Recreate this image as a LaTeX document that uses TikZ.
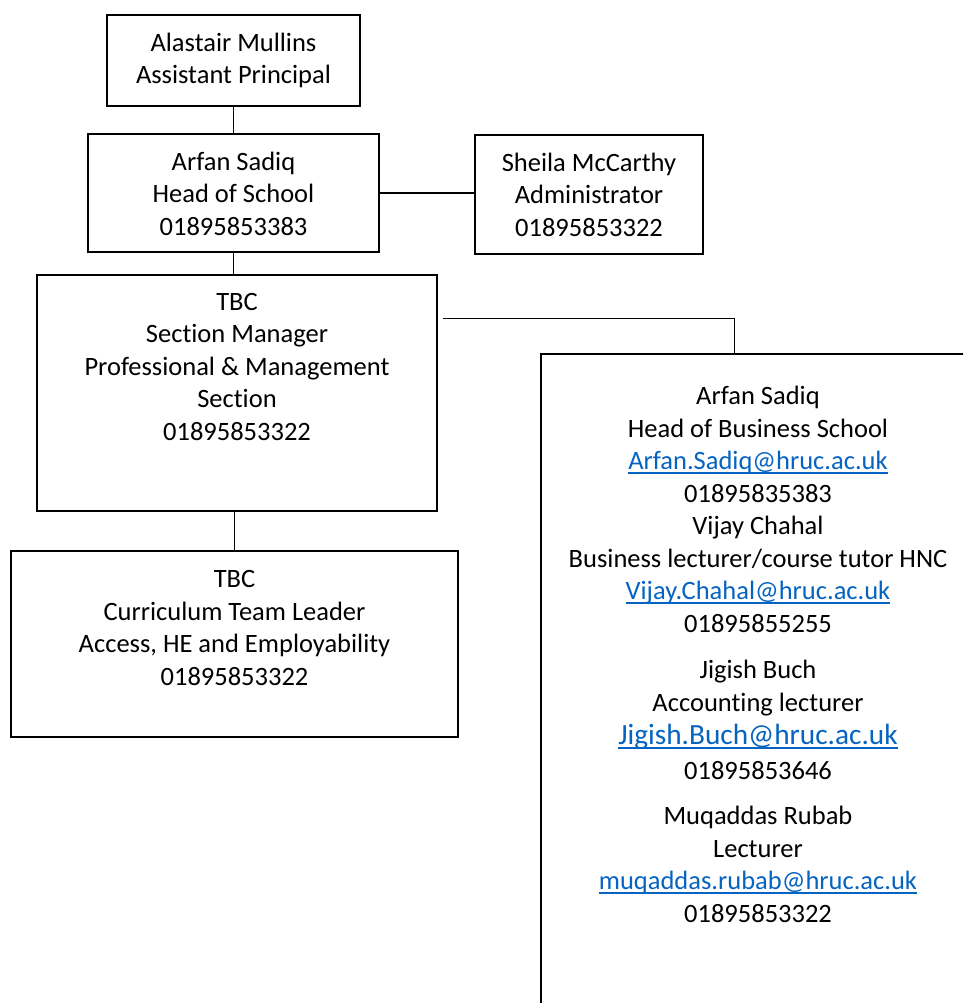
\documentclass[tikz,border=0pt]{standalone}
\usepackage{fontspec}
\setmainfont{Carlito}[Ligatures=NoCommon]
\definecolor{linkblue}{HTML}{0563C1}
\newcommand\mylink[1]{\textcolor{linkblue}{\setbox0\hbox{#1}\rlap{\rule[-4pt]{\wd0}{1.4pt}}\box0}}
\tikzset{
  box/.style={draw, line width=1.5pt, inner sep=0pt},
  txt/.style={align=center, anchor=base, inner sep=0pt, font=\fontsize{26.5}{32.5}\selectfont},
  conn/.style={line width=1.1pt},
}
\begin{document}
\begin{tikzpicture}[x=1pt,y=-1pt]
\useasboundingbox (0,0) rectangle (963,1003);
\clip (0,0) rectangle (963,1003);
% boxes
\node[box, minimum width=253pt, minimum height=91pt]  (a) at (233.5,60.5) {};
\node[box, minimum width=291pt, minimum height=118pt] (b) at (233.5,193) {};
\node[box, minimum width=228pt, minimum height=119pt] (c) at (589,194.5) {};
\node[box, minimum width=400pt, minimum height=236pt] (d) at (237,393) {};
\node[box, minimum width=447pt, minimum height=186pt] (f) at (234.5,644) {};
\node[box, minimum width=434pt, minimum height=661pt] (e) at (758,684.5) {};
% texts (anchor base = baseline of the last line)
\node[txt] (at) at (233.5,84) {Alastair Mullins\\Assistant Principal};
\node[txt] (bt) at (233.5,235) {Arfan Sadiq\\Head of School\\01895853383};
\node[txt] (ct) at (589,236) {Sheila McCarthy\\Administrator\\01895853322};
\node[txt] (dt) at (237,440) {TBC\\Section Manager\\Professional \& Management\\Section\\01895853322};
\node[txt] (ft) at (234.5,685) {TBC\\Curriculum Team Leader\\Access, HE and Employability\\01895853322};
\node[txt] (e1) at (758,632) {Arfan Sadiq\\Head of Business School\\\mylink{Arfan.Sadiq@hruc.ac.uk}\\01895835383\\Vijay Chahal\\Business lecturer/course tutor HNC\\\mylink{Vijay.Chahal@hruc.ac.uk}\\01895855255};
\node[txt] (e2) at (758,779) {Jigish Buch\\Accounting lecturer\\[1pt]{\fontsize{29.3}{34}\selectfont\mylink{Jigish.Buch@hruc.ac.uk}}\\[2pt]01895853646};
\node[txt] (e3) at (758,922) {Muqaddas Rubab\\Lecturer\\\mylink{muqaddas.rubab@hruc.ac.uk}\\01895853322};
% connectors
\draw[conn] (a.south) -- (b.north);
\draw[conn] (b.east) -- (b.east -| c.west);
\draw[conn] (b.south) -- (b.south |- d.north);
\draw[conn] (f.north |- d.south) -- (f.north);
\draw[conn] ([xshift=5pt,yshift=-44pt]d.north east) -| ([xshift=194pt]e.north west);
\end{tikzpicture}
\end{document}
